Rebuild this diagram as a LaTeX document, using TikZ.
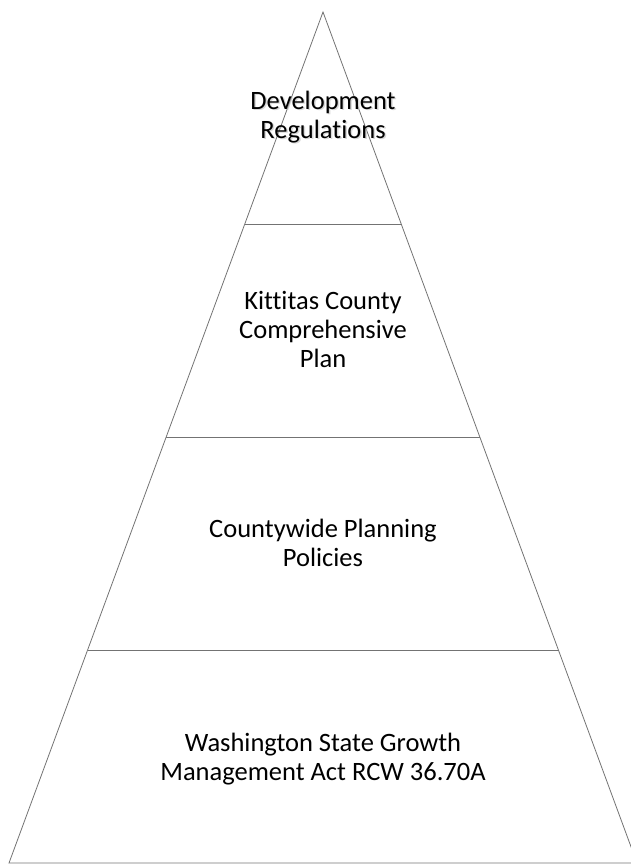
\documentclass[tikz,border=0pt]{standalone}
\usepackage{fontspec}
\setmainfont{Carlito}[Ligatures=NoCommon]
\usetikzlibrary{calc}
\begin{document}
\begin{tikzpicture}[x=1pt,y=-1pt,
    level/.style={align=center, inner sep=0pt, font=\fontsize{26.5}{29}\selectfont},
    side/.style={draw=black!55, line width=0.8pt}]
    \useasboundingbox (0,0) rectangle (630,865);
    \coordinate (top) at (323,12);
    \coordinate (bl) at (9,863);
    \coordinate (br) at (637,863);
    \draw [side](bl)--(top)--(br)--cycle;
    \foreach \f in {0.25,0.5,0.75}
        \draw [side]($(top)!\f!(bl)$)--($(top)!\f!(br)$);
    \draw (324.5,118.5)node(devshadow)[level, text=black!25, opacity=0.6]{Development\\Regulations}
    (323,117)node(dev)[level]{Development\\Regulations}
    (323,329)node(plan)[level]{Kittitas County\\Comprehensive\\Plan}
    (323,543)node(cpp)[level]{Countywide Planning\\Policies}
    (323,759)node(gma)[level]{Washington State Growth\\Management Act RCW 36.70A};
\end{tikzpicture}
\end{document}
